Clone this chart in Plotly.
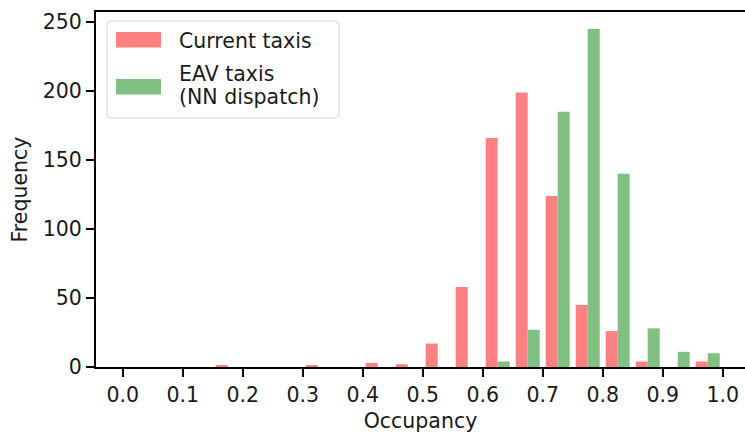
import plotly.graph_objects as go

# ---- data (histogram counts, 20 bins of width 0.05 on [0, 1]) ----
bin_left_edges = [0.00, 0.05, 0.10, 0.15, 0.20, 0.25, 0.30, 0.35, 0.40, 0.45,
                  0.50, 0.55, 0.60, 0.65, 0.70, 0.75, 0.80, 0.85, 0.90, 0.95]
bin_width = 0.05
current_taxis = [0, 0, 0, 1, 0, 0, 1, 0, 3, 2, 17, 58, 166, 199, 124, 45, 26, 4, 0, 4]
eav_taxis = [0, 0, 0, 0, 0, 0, 0, 0, 0, 0, 0, 0, 4, 27, 185, 245, 140, 28, 11, 10]
x_ticks = [0.0, 0.1, 0.2, 0.3, 0.4, 0.5, 0.6, 0.7, 0.8, 0.9, 1.0]
y_ticks = [0, 50, 100, 150, 200, 250]
series_names = ["Current taxis", "EAV taxis", "(NN dispatch)"]

RED = "rgb(255,128,128)"
GREEN = "rgb(128,192,128)"
FONT = "DejaVu Sans"
FS = 20.5
TXT = "#1a1a1a"

W, H = 745, 436
L, T, B = 96, 12, 69
PW, PH = W - L, H - T - B

centers = [e + bin_width / 2 for e in bin_left_edges]
bar_w = 0.4 * bin_width

fig = go.Figure()
fig.add_trace(go.Bar(x=centers, y=current_taxis, width=bar_w, offset=-bar_w,
                     marker=dict(color=RED, line=dict(width=0)),
                     name=series_names[0], showlegend=False))
fig.add_trace(go.Bar(x=centers, y=eav_taxis, width=bar_w, offset=0,
                     marker=dict(color=GREEN, line=dict(width=0)),
                     name=series_names[1] + " " + series_names[2], showlegend=False))

# x range: matplotlib-style 5% margins around bar extents, right edge clipped by canvas
lo = bin_left_edges[0] + 0.1 * bin_width
hi = bin_left_edges[-1] + 0.9 * bin_width
xmin = lo - 0.05 * (hi - lo)
xmax_full = hi + 0.05 * (hi - lo)
px_per_unit = 600.0
xmax = xmin + PW / px_per_unit
ymax = max(max(current_taxis), max(eav_taxis)) * 1.05

fig.update_layout(
    width=W, height=H,
    margin=dict(l=L, r=0, t=T, b=B, pad=0),
    paper_bgcolor="white", plot_bgcolor="white",
    barmode="overlay",
    font=dict(family=FONT, size=FS, color=TXT),
    xaxis=dict(range=[xmin, xmax], tickvals=x_ticks, tickformat=".1f",
               showgrid=False, zeroline=False, showline=True, mirror=True,
               linecolor="black", linewidth=2, ticks="outside", ticklen=8,
               tickwidth=2, tickcolor="black",
               tickfont=dict(family=FONT, size=FS, color=TXT),
               title=dict(text="Occupancy", standoff=8,
                          font=dict(family=FONT, size=FS, color=TXT))),
    yaxis=dict(range=[0, ymax], tickvals=y_ticks,
               showgrid=False, zeroline=False, showline=True, mirror=False,
               linecolor="black", linewidth=2, ticks="outside", ticklen=8,
               tickwidth=2, tickcolor="black",
               tickfont=dict(family=FONT, size=FS, color=TXT),
               title=dict(text="Frequency", standoff=10,
                          font=dict(family=FONT, size=FS, color=TXT))),
)

def px(x):
    return (x - L) / PW

def py(y):
    return (H - B - y) / PH

# manual matplotlib-style legend
x0, x1, y0, y1, r = 107, 339, 21, 118, 4
path = (f"M {px(x0 + r)} {py(y0)} L {px(x1 - r)} {py(y0)} "
        f"Q {px(x1)} {py(y0)} {px(x1)} {py(y0 + r)} L {px(x1)} {py(y1 - r)} "
        f"Q {px(x1)} {py(y1)} {px(x1 - r)} {py(y1)} L {px(x0 + r)} {py(y1)} "
        f"Q {px(x0)} {py(y1)} {px(x0)} {py(y1 - r)} L {px(x0)} {py(y0 + r)} "
        f"Q {px(x0)} {py(y0)} {px(x0 + r)} {py(y0)} Z")
fig.add_shape(type="path", path=path, xref="paper", yref="paper",
              line=dict(color="#d5d5d5", width=1), fillcolor="rgba(255,255,255,0.8)")
fig.add_shape(type="rect", xref="paper", yref="paper",
              x0=px(116), x1=px(161), y0=py(32), y1=py(47.5),
              line=dict(width=0), fillcolor=RED)
fig.add_shape(type="rect", xref="paper", yref="paper",
              x0=px(116), x1=px(161), y0=py(79), y1=py(94.5),
              line=dict(width=0), fillcolor=GREEN)
for label, yc in [(series_names[0], 41), (series_names[1], 74), (series_names[2], 97)]:
    fig.add_annotation(text=label, xref="paper", yref="paper", x=px(177), y=py(yc),
                       xanchor="left", yanchor="middle", showarrow=False,
                       font=dict(family=FONT, size=FS, color=TXT))

fig.write_html("out.html")
